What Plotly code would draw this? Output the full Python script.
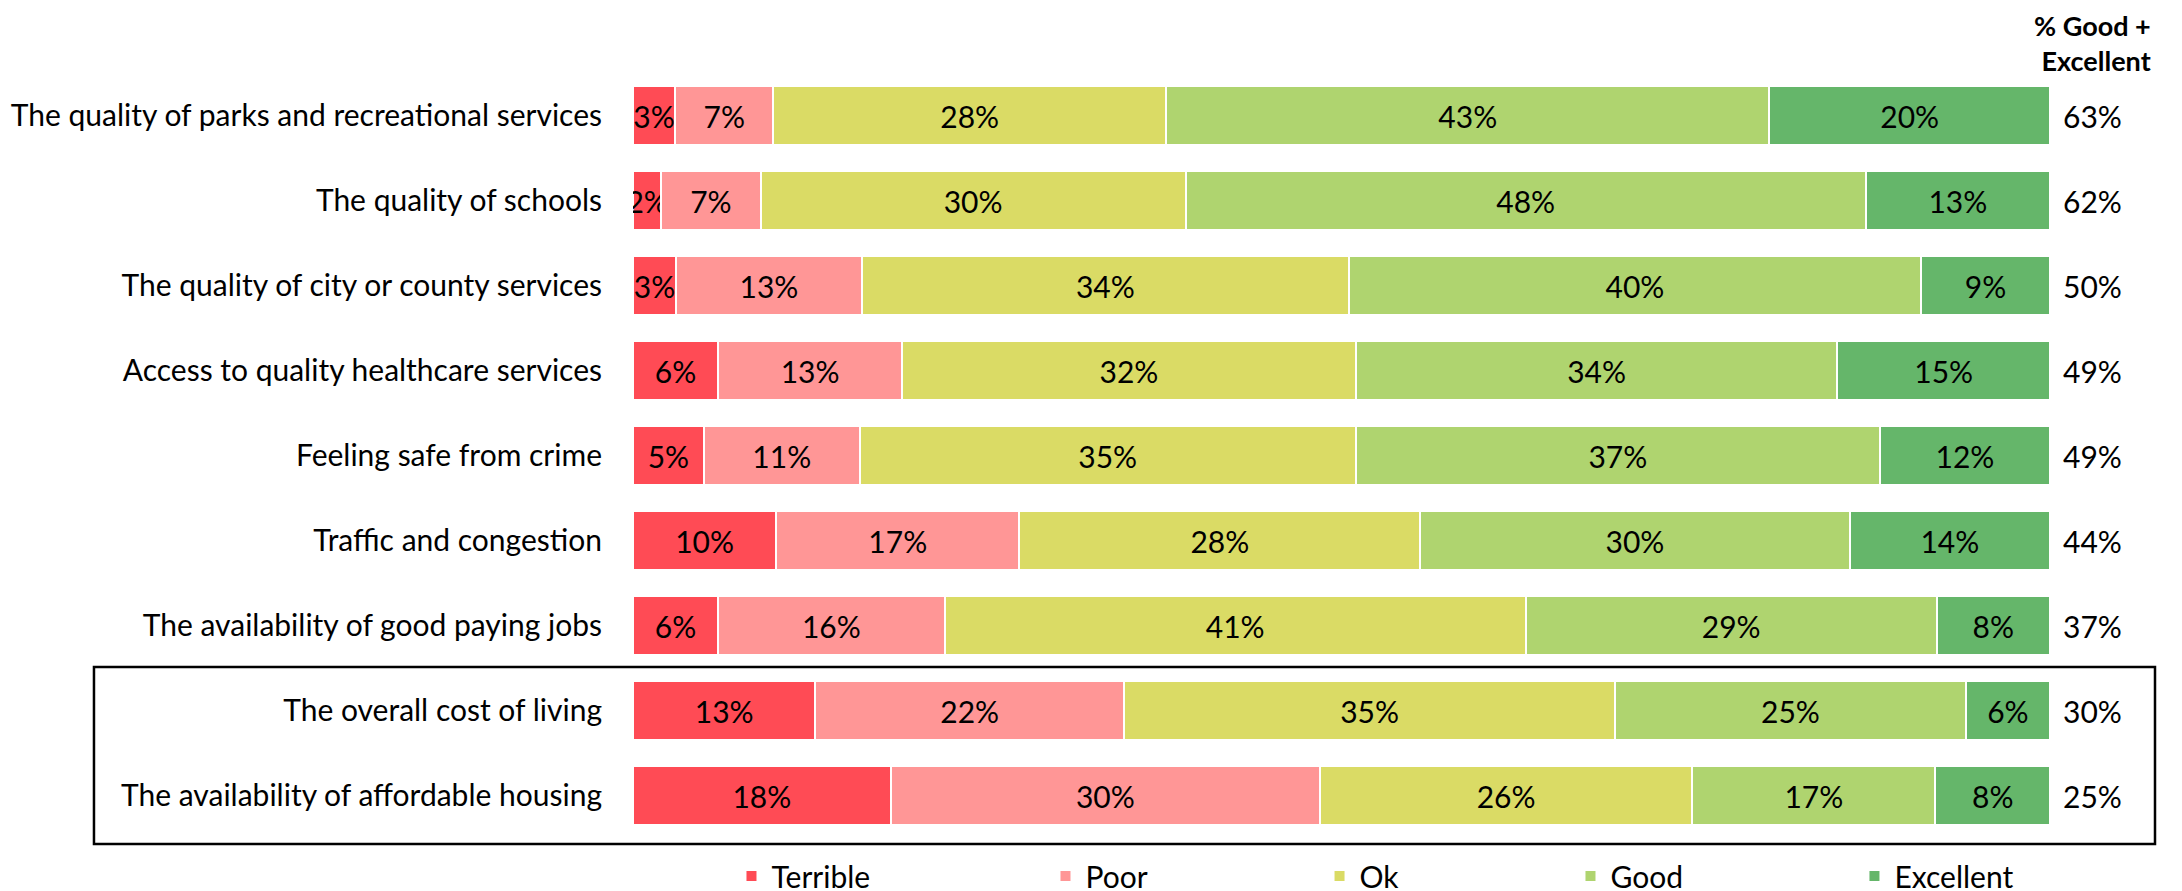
import plotly.graph_objects as go

categories = [
    "The quality of parks and recreational services",
    "The quality of schools",
    "The quality of city or county services",
    "Access to quality healthcare services",
    "Feeling safe from crime",
    "Traffic and congestion",
    "The availability of good paying jobs",
    "The overall cost of living",
    "The availability of affordable housing",
]

terrible = [3, 2, 3, 6, 5, 10, 6, 13, 18]
poor = [7, 7, 13, 13, 11, 17, 16, 22, 30]
ok = [28, 30, 34, 32, 35, 28, 41, 35, 26]
good = [43, 48, 40, 34, 37, 30, 29, 25, 17]
excellent = [20, 13, 9, 15, 12, 14, 8, 6, 8]
good_plus_excellent = [63, 62, 50, 49, 49, 44, 37, 30, 25]

series = [
    ("Terrible", terrible, "#FF4B55"),
    ("Poor", poor, "#FF9696"),
    ("Ok", ok, "#DADB65"),
    ("Good", good, "#AFD46F"),
    ("Excellent", excellent, "#65B66A"),
]

FONT = "Lato"
FS = 30
W, H = 2182, 891
# the page body adds 8px, margins are shifted to compensate
ML, MR, MT, MB = 625, 140, 65, 61

fig = go.Figure()

legend_x = [0.0695, 0.2911, 0.4845, 0.6616, 0.8620]
for i, (name, vals, color) in enumerate(series):
    lg = "legend" if i == 0 else f"legend{i + 1}"
    fig.add_trace(go.Bar(
        y=categories,
        x=vals,
        name=name,
        orientation="h",
        marker=dict(color=color, line=dict(color="white", width=2)),
        text=[f"{v}%" for v in vals],
        textposition="inside",
        insidetextanchor="middle",
        textangle=0,
        textfont=dict(family=FONT, size=FS, color="black"),
        constraintext="none",
        legend=lg,
    ))

# right-hand column: % Good + Excellent
for cat, v in zip(categories, good_plus_excellent):
    fig.add_annotation(
        x=1.0303, xref="paper", y=cat, yref="y",
        text=f"{v}%", showarrow=False,
        font=dict(family=FONT, size=FS, color="black"),
        xanchor="center",
    )

fig.add_annotation(
    x=1.072, xref="paper", y=1 + MT / (H - MT - MB), yref="paper",
    text="<b>% Good +<br>Excellent</b>", showarrow=False,
    font=dict(family=FONT, size=27, color="black"),
    xanchor="right", yanchor="top", align="right", borderpad=0,
)

# box around the last two rows
fig.add_shape(
    type="rect", xref="paper", yref="paper",
    x0=-0.3804, x1=1.0741, y0=-0.0078, y1=0.2235,
    line=dict(color="black", width=2.5),
)

legend_common = dict(
    orientation="h", y=-0.0497, yanchor="middle", xanchor="left",
    font=dict(family=FONT, size=FS, color="black"),
    bgcolor="rgba(0,0,0,0)",
)
layout_legends = {}
for i, x in enumerate(legend_x):
    key = "legend" if i == 0 else f"legend{i + 1}"
    layout_legends[key] = dict(x=x, **legend_common)

fig.update_layout(
    barmode="stack",
    barnorm="percent",
    bargap=0.312,
    width=W, height=H,
    margin=dict(l=ML, r=MR, t=MT, b=MB, autoexpand=False),
    plot_bgcolor="white",
    paper_bgcolor="white",
    font=dict(family=FONT, size=FS, color="black"),
    uniformtext=dict(minsize=FS, mode="show"),
    showlegend=True,
    xaxis=dict(range=[0, 100], visible=False, fixedrange=True),
    yaxis=dict(
        autorange="reversed",
        showgrid=False, zeroline=False, showline=False,
        ticks="", ticklabelstandoff=30,
        tickfont=dict(family=FONT, size=FS, color="black"),
    ),
    **layout_legends,
)

fig.write_html("out.html")
